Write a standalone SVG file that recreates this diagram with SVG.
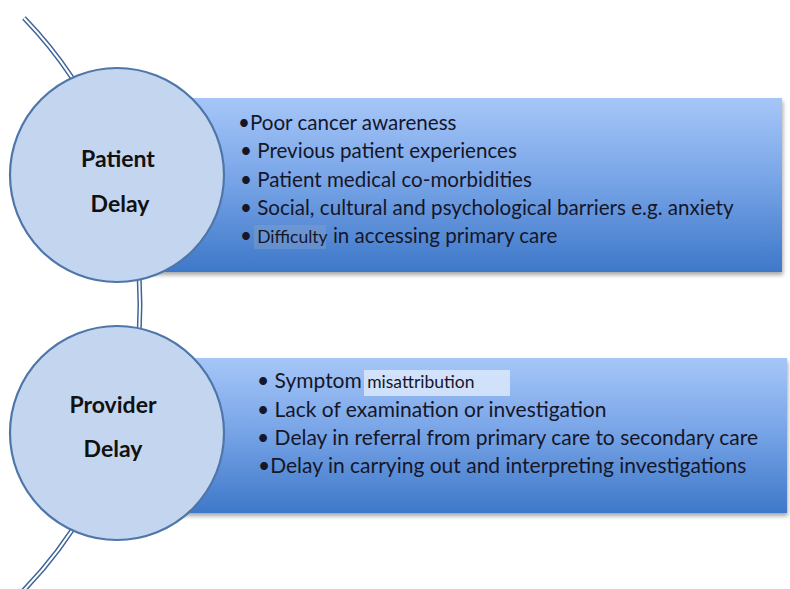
<svg xmlns="http://www.w3.org/2000/svg" width="790" height="589" viewBox="0 0 790 589">
  <defs>
    <linearGradient id="barFill" x1="0" y1="0" x2="0" y2="1">
      <stop offset="0" stop-color="#a6c6f8"/>
      <stop offset="0.45" stop-color="#7aa6e8"/>
      <stop offset="1" stop-color="#3e78c9"/>
    </linearGradient>
    <filter id="shadow" x="-5%" y="-10%" width="110%" height="125%">
      <feGaussianBlur in="SourceAlpha" stdDeviation="2"/>
      <feOffset dx="1" dy="3"/>
      <feComponentTransfer><feFuncA type="linear" slope="0.35"/></feComponentTransfer>
      <feMerge><feMergeNode/><feMergeNode in="SourceGraphic"/></feMerge>
    </filter>
  </defs>
  <style>
    .bar { fill: url(#barFill); filter: url(#shadow); }
    .disc { fill: #c4d6ef; stroke: #4e76a8; stroke-width: 2.2; }
    .rail-out { fill: none; stroke: #3f6596; stroke-width: 5; }
    .rail-in { fill: none; stroke: #ffffff; stroke-width: 2; }
    .label { font-family: Lato, "Liberation Sans", sans-serif; font-weight: bold; font-size: 23px; fill: #111111; text-anchor: middle; }
    .item { font-family: Lato, "Liberation Sans", sans-serif; font-size: 20.6px; fill: #161629; }
    .item2 { font-family: Lato, "Liberation Sans", sans-serif; font-size: 21px; fill: #161629; }
    .small { font-size: 17.5px; }
  </style>

  <rect width="790" height="589" fill="#ffffff"/>

  <!-- connector rail running behind both circles -->
  <g id="connectors">
    <path class="rail-out" d="M 24 18 A 410.6 410.6 0 0 1 22 592"/>
    <path class="rail-in" d="M 24 18 A 410.6 410.6 0 0 1 22 592"/>
  </g>

  <!-- patient delay -->
  <g id="patient-bar">
    <rect class="bar" x="150" y="98" width="632" height="174"/>
    <rect x="254" y="225" width="72" height="24" fill="#8fa7c9" opacity="0.35"/>
    <text class="item" x="238" y="130">•Poor cancer awareness</text>
    <text class="item" x="240" y="158">• Previous patient experiences</text>
    <text class="item" x="240" y="187">• Patient medical co-morbidities</text>
    <text class="item" x="240" y="215">• Social, cultural and psychological barriers e.g. anxiety</text>
    <text class="item" x="240" y="243">• <tspan class="small">Difficulty</tspan> in accessing primary care</text>
  </g>
  <g id="patient-delay">
    <circle class="disc" cx="117" cy="175" r="107"/>
    <text class="label" x="118" y="167">Patient</text>
    <text class="label" x="120" y="212">Delay</text>
  </g>

  <!-- provider delay -->
  <g id="provider-bar">
    <rect class="bar" x="150" y="358" width="637" height="155"/>
    <rect x="364" y="370" width="146" height="26" fill="#dbe7fb" opacity="0.85"/>
    <text class="item2" x="257" y="388">• Symptom <tspan class="small">misattribution</tspan></text>
    <text class="item2" x="257" y="417">• Lack of examination or investigation</text>
    <text class="item2" x="257" y="445">• Delay in referral from primary care to secondary care</text>
    <text class="item2" x="258" y="473">•Delay in carrying out and interpreting investigations</text>
  </g>
  <g id="provider-delay">
    <circle class="disc" cx="117" cy="433" r="107"/>
    <text class="label" x="113" y="413">Provider</text>
    <text class="label" x="113" y="457">Delay</text>
  </g>
</svg>
